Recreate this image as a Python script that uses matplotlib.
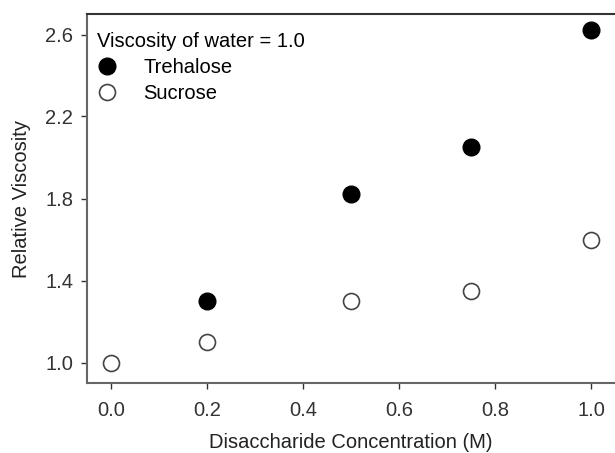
import matplotlib.pyplot as plt
from matplotlib.lines import Line2D

plt.rcParams['font.family'] = ['Liberation Sans', 'DejaVu Sans']

# Data
conc_trehalose = [0.2, 0.5, 0.75, 1.0]
visc_trehalose = [1.30, 1.82, 2.05, 2.62]
err_trehalose = [0.01, 0.02, 0.03, 0.03]

conc_sucrose = [0.0, 0.2, 0.5, 0.75, 1.0]
visc_sucrose = [1.00, 1.10, 1.30, 1.35, 1.60]

x_ticks = [0.0, 0.2, 0.4, 0.6, 0.8, 1.0]
y_ticks = [1.0, 1.4, 1.8, 2.2, 2.6]

fig = plt.figure(figsize=(6.15, 4.53), dpi=100)
ax = fig.add_axes([87 / 615, 1 - 383 / 453, (615 - 87) / 615, (383 - 14) / 453])

# Trehalose: filled circles with small error bars
ax.errorbar(conc_trehalose, visc_trehalose, yerr=err_trehalose,
            fmt='none', ecolor='#aaaaaa', elinewidth=1, capsize=3)
ax.plot(conc_trehalose, visc_trehalose, 'o', color='black', markersize=12)

# Sucrose: open circles
ax.plot(conc_sucrose, visc_sucrose, 'o', markersize=11.5,
        markerfacecolor='white', markeredgecolor='#444444',
        markeredgewidth=1.2)

ax.set_xlim(-0.05, 1.05)
ax.set_ylim(0.9, 2.7)
ax.set_xticks(x_ticks)
ax.set_yticks(y_ticks)
ax.set_xticklabels([f'{t:.1f}' for t in x_ticks])
ax.set_yticklabels([f'{t:.1f}' for t in y_ticks])
ax.tick_params(direction='out', length=4, width=1, colors='#333333',
               labelsize=14.5)
ax.tick_params(axis='x', pad=9)
ax.tick_params(axis='y', pad=6)

ax.spines['right'].set_visible(False)
for side in ['left', 'bottom']:
    ax.spines[side].set_color('#666666')
    ax.spines[side].set_linewidth(1.5)
ax.spines['top'].set_color('#333333')
ax.spines['top'].set_linewidth(1.5)

ax.set_xlabel('Disaccharide Concentration (M)', fontsize=14.5, color='#222222', labelpad=9)
ax.set_ylabel('Relative Viscosity', fontsize=14.5, color='#222222', labelpad=10)

# Legend: title line plus the two series
handles = [
    Line2D([], [], marker='o', linestyle='none', color='black', markersize=12),
    Line2D([], [], marker='o', linestyle='none', markersize=11.5,
           markerfacecolor='white', markeredgecolor='#444444', markeredgewidth=1.2),
]
ax.legend(handles, ['Trehalose', 'Sucrose'], title='Viscosity of water = 1.0',
          loc='upper left', bbox_to_anchor=(0, 0.978), frameon=False,
          fontsize=14.5, title_fontsize=14.5, alignment='left',
          handletextpad=1.3, labelspacing=0.35,
          borderaxespad=0.2, handlelength=1.0, borderpad=0.3)

fig.savefig('out.png', dpi=100)
